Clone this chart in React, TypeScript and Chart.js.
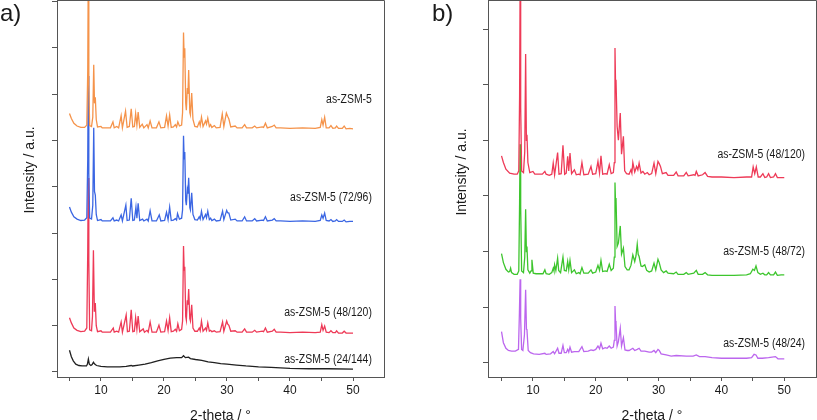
import React, { useEffect, useRef } from "react";
import { Chart, registerables } from "chart.js";

Chart.register(...registerables);

const FONT = "'Liberation Sans', Arial, Helvetica, sans-serif";
const FRAME = "#555555";
const TEXT = "#1a1a1a";

type Pt = [number, number];

// ---- axis ticks ----
const X_TICKS = [5, 10, 15, 20, 25, 30, 35, 40, 45, 50];
const X_TICK_LABELS = [10, 20, 30, 40, 50];
const Y_TICKS_A = [0, 1, 2, 3, 4, 5, 6, 7, 8];
const Y_TICKS_B = [0, 1, 2, 3, 4, 5, 6];

// ---- series names ----
const NAMES_A = ["as-ZSM-5", "as-ZSM-5 (72/96)", "as-ZSM-5 (48/120)", "as-ZSM-5 (24/144)"];
const NAMES_B = ["as-ZSM-5 (48/120)", "as-ZSM-5 (48/72)", "as-ZSM-5 (48/24)"];

// ---- panel a data (2-theta, offset intensity) ----
const ORANGE_A: Pt[] = [
  [5.0, 5.58], [5.3, 5.47], [5.7, 5.37], [6.2, 5.31], [6.8, 5.28], [7.4, 5.28], [7.75, 5.33], [7.9, 6.5], [7.98, 8.6], [8.07, 6.2],
  [8.2, 5.32], [8.5, 5.30], [8.7, 5.5], [8.85, 6.63], [8.97, 5.8], [9.1, 5.93], [9.25, 5.45], [9.45, 5.29], [10.0, 5.30], [10.2, 5.27],
  [11.5, 5.27], [11.9, 5.40], [12.1, 5.27], [12.5, 5.30], [12.8, 5.27], [13.2, 5.53], [13.4, 5.27], [13.9, 5.63], [14.15, 5.28], [14.5, 5.30],
  [14.8, 5.68], [15.05, 5.29], [15.3, 5.30], [15.5, 5.58], [15.7, 5.33], [15.9, 5.61], [16.15, 5.28], [16.55, 5.35], [16.8, 5.27], [17.3, 5.34],
  [17.5, 5.27], [17.8, 5.42], [18.1, 5.27], [18.8, 5.27], [19.2, 5.40], [19.5, 5.27], [20.1, 5.28], [20.4, 5.53], [20.65, 5.31], [20.9, 5.55],
  [21.15, 5.28], [21.5, 5.29], [21.8, 5.34], [22.0, 5.29], [22.2, 5.40], [22.45, 5.31], [22.8, 5.33], [22.95, 5.6], [23.1, 7.33], [23.2, 6.8],
  [23.3, 6.99], [23.45, 5.8], [23.55, 5.65], [23.7, 6.13], [23.8, 6.0], [23.92, 6.52], [24.1, 5.6], [24.2, 5.55], [24.4, 6.02], [24.6, 5.45],
  [24.9, 5.30], [25.3, 5.29], [25.6, 5.40], [25.75, 5.32], [25.95, 5.50], [26.2, 5.30], [26.6, 5.42], [26.75, 5.35], [26.95, 5.48], [27.2, 5.30],
  [27.4, 5.34], [27.6, 5.28], [28.0, 5.32], [28.3, 5.27], [28.9, 5.28], [29.25, 5.57], [29.5, 5.30], [29.9, 5.59], [30.1, 5.52], [30.3, 5.46],
  [30.6, 5.29], [31.3, 5.31], [31.6, 5.27], [32.4, 5.27], [32.8, 5.34], [33.1, 5.27], [34.0, 5.27], [34.4, 5.31], [34.7, 5.27], [35.6, 5.29],
  [35.8, 5.28], [36.1, 5.37], [36.4, 5.27], [37.2, 5.30], [37.5, 5.33], [37.8, 5.27], [38.5, 5.27], [40, 5.26], [42, 5.27], [44, 5.26],
  [44.8, 5.28], [45.05, 5.45], [45.25, 5.33], [45.5, 5.50], [45.75, 5.27], [46.2, 5.27], [46.5, 5.32], [46.8, 5.26], [47.2, 5.27], [47.4, 5.31],
  [47.7, 5.26], [48.3, 5.26], [48.6, 5.31], [48.9, 5.25], [49.5, 5.26], [50, 5.25],
];

const BLUE_A: Pt[] = [
  [5.0, 3.56], [5.3, 3.45], [5.7, 3.35], [6.2, 3.30], [6.8, 3.27], [7.4, 3.28], [7.75, 3.33], [7.9, 4.6], [7.98, 6.39], [8.07, 4.3],
  [8.2, 3.32], [8.5, 3.30], [8.7, 3.6], [8.85, 5.27], [8.97, 3.9], [9.1, 3.82], [9.25, 3.40], [9.45, 3.27], [10.0, 3.29], [10.2, 3.26],
  [11.5, 3.26], [11.9, 3.33], [12.1, 3.26], [12.5, 3.28], [12.8, 3.26], [13.2, 3.39], [13.4, 3.26], [13.95, 3.60], [14.15, 3.27], [14.5, 3.28],
  [14.8, 3.75], [15.05, 3.27], [15.3, 3.28], [15.55, 3.56], [15.7, 3.32], [15.9, 3.64], [16.15, 3.27], [16.6, 3.30], [16.8, 3.26], [17.3, 3.30],
  [17.5, 3.26], [17.8, 3.48], [18.1, 3.26], [18.8, 3.26], [19.25, 3.39], [19.5, 3.26], [20.1, 3.27], [20.4, 3.45], [20.65, 3.29], [20.9, 3.56],
  [21.15, 3.27], [21.5, 3.28], [21.8, 3.31], [22.0, 3.28], [22.15, 3.42], [22.45, 3.30], [22.8, 3.32], [22.95, 3.5], [23.1, 5.10], [23.2, 4.6],
  [23.3, 4.75], [23.45, 3.7], [23.55, 3.6], [23.7, 3.93], [23.8, 3.85], [23.92, 4.19], [24.1, 3.55], [24.2, 3.5], [24.4, 3.87], [24.6, 3.40],
  [24.9, 3.29], [25.3, 3.28], [25.6, 3.35], [25.75, 3.30], [25.95, 3.47], [26.2, 3.29], [26.6, 3.40], [26.75, 3.33], [26.95, 3.47], [27.2, 3.29],
  [27.4, 3.32], [27.6, 3.27], [28.0, 3.30], [28.3, 3.26], [28.9, 3.27], [29.3, 3.47], [29.5, 3.29], [29.95, 3.49], [30.1, 3.44], [30.3, 3.43],
  [30.6, 3.28], [31.3, 3.30], [31.6, 3.26], [32.4, 3.26], [32.8, 3.35], [33.1, 3.26], [34.0, 3.26], [34.4, 3.31], [34.7, 3.26], [35.6, 3.28],
  [35.8, 3.27], [36.1, 3.35], [36.4, 3.26], [37.2, 3.28], [37.5, 3.31], [37.8, 3.26], [38.5, 3.26], [40, 3.25], [42, 3.26], [44, 3.25],
  [44.8, 3.27], [45.05, 3.39], [45.25, 3.32], [45.5, 3.43], [45.75, 3.27], [46.2, 3.26], [46.5, 3.29], [46.8, 3.25], [47.2, 3.26], [47.4, 3.29],
  [47.7, 3.25], [48.3, 3.25], [48.6, 3.28], [48.9, 3.24], [49.5, 3.25], [50, 3.25],
];

const RED_A: Pt[] = [
  [5.0, 1.17], [5.3, 1.06], [5.7, 0.95], [6.2, 0.90], [6.8, 0.87], [7.4, 0.88], [7.75, 0.95], [7.9, 2.6], [7.98, 4.19], [8.07, 2.4],
  [8.2, 0.91], [8.5, 0.89], [8.65, 1.2], [8.8, 2.63], [8.95, 1.3], [9.1, 1.49], [9.25, 1.0], [9.45, 0.87], [10.0, 0.89], [10.2, 0.86],
  [11.5, 0.86], [11.95, 0.95], [12.1, 0.86], [12.5, 0.88], [12.8, 0.86], [13.2, 1.08], [13.4, 0.86], [14.0, 1.23], [14.2, 0.87], [14.5, 0.88],
  [14.8, 1.34], [15.05, 0.87], [15.3, 0.88], [15.5, 1.17], [15.7, 0.92], [15.9, 1.21], [16.15, 0.87], [16.7, 0.93], [16.9, 0.86], [17.3, 0.90],
  [17.5, 0.86], [17.8, 1.08], [18.1, 0.86], [18.8, 0.86], [19.2, 1.01], [19.5, 0.86], [20.1, 0.87], [20.4, 1.10], [20.65, 0.90], [20.9, 1.17],
  [21.15, 0.87], [21.5, 0.88], [21.8, 0.92], [22.0, 0.88], [22.2, 1.04], [22.45, 0.89], [22.8, 0.92], [22.95, 1.1], [23.1, 2.72], [23.2, 2.2],
  [23.3, 2.27], [23.45, 1.2], [23.55, 1.12], [23.7, 1.55], [23.8, 1.45], [23.92, 1.79], [24.1, 1.15], [24.2, 1.1], [24.4, 1.45], [24.6, 0.95],
  [24.9, 0.88], [25.3, 0.88], [25.6, 0.95], [25.75, 0.89], [25.95, 1.10], [26.2, 0.88], [26.6, 0.95], [26.75, 0.90], [26.95, 1.06], [27.2, 0.88],
  [27.4, 0.90], [27.6, 0.87], [28.0, 0.89], [28.3, 0.86], [28.9, 0.87], [29.3, 1.08], [29.5, 0.88], [29.95, 1.10], [30.1, 1.04], [30.3, 1.01],
  [30.6, 0.88], [31.3, 0.89], [31.6, 0.86], [32.4, 0.86], [32.8, 0.93], [33.1, 0.86], [34.0, 0.86], [34.4, 0.90], [34.7, 0.86], [35.6, 0.88],
  [35.8, 0.87], [36.1, 0.95], [36.4, 0.86], [37.2, 0.88], [37.5, 0.92], [37.8, 0.86], [38.5, 0.86], [40, 0.85], [42, 0.86], [44, 0.85],
  [44.8, 0.86], [45.05, 1.02], [45.25, 0.90], [45.5, 0.99], [45.75, 0.86], [46.2, 0.85], [46.5, 0.89], [46.8, 0.85], [47.2, 0.85], [47.4, 0.89],
  [47.7, 0.84], [48.3, 0.84], [48.6, 0.88], [48.9, 0.84], [49.5, 0.84], [50, 0.84],
];

const BLACK_A: Pt[] = [
  [5.0, 0.47], [5.3, 0.33], [5.6, 0.24], [6.0, 0.17], [6.5, 0.14], [7.0, 0.13], [7.7, 0.13], [7.85, 0.17], [8.0, 0.28], [8.15, 0.17],
  [8.4, 0.14], [8.6, 0.16], [8.8, 0.21], [9.0, 0.17], [9.3, 0.14], [10.0, 0.12], [11.0, 0.11], [12.0, 0.11], [13.0, 0.11], [14.0, 0.12],
  [14.8, 0.14], [15.0, 0.13], [16.0, 0.15], [17.0, 0.17], [18.0, 0.20], [19.0, 0.24], [20.0, 0.27], [21.0, 0.30], [22.0, 0.31], [22.8, 0.31],
  [23.1, 0.35], [23.4, 0.31], [23.9, 0.32], [24.2, 0.29], [25, 0.27], [26, 0.25], [27, 0.22], [28, 0.20], [29, 0.18], [30, 0.17],
  [31.5, 0.15], [33, 0.13], [35, 0.11], [37, 0.10], [40, 0.08], [43, 0.07], [46, 0.07], [50, 0.06],
];

// ---- panel b data ----
const RED_B: Pt[] = [
  [5.0, 3.72], [5.3, 3.60], [5.7, 3.48], [6.3, 3.41], [7.0, 3.39], [7.5, 3.39], [7.75, 3.45], [7.88, 4.8], [7.96, 6.8], [8.05, 4.6],
  [8.2, 3.45], [8.5, 3.42], [8.7, 3.8], [8.84, 5.55], [8.96, 4.0], [9.05, 4.10], [9.2, 3.6], [9.5, 3.42], [10.0, 3.44], [10.3, 3.39],
  [11.5, 3.39], [11.9, 3.44], [12.1, 3.39], [12.6, 3.37], [13.0, 3.39], [13.23, 3.59], [13.45, 3.38], [13.93, 3.78], [14.15, 3.39], [14.5, 3.40],
  [14.78, 3.91], [15.05, 3.39], [15.3, 3.41], [15.53, 3.71], [15.7, 3.45], [15.9, 3.77], [16.15, 3.40], [16.6, 3.47], [16.9, 3.38], [17.3, 3.39],
  [17.5, 3.38], [17.8, 3.60], [18.1, 3.38], [18.8, 3.39], [19.24, 3.53], [19.5, 3.39], [20.0, 3.40], [20.35, 3.62], [20.6, 3.41], [20.83, 3.72],
  [21.1, 3.39], [21.5, 3.40], [21.8, 3.39], [22.15, 3.56], [22.45, 3.40], [22.8, 3.42], [22.95, 3.6], [23.06, 5.66], [23.15, 5.0], [23.22, 5.09],
  [23.4, 4.25], [23.6, 4.0], [23.9, 4.49], [24.1, 3.75], [24.4, 4.07], [24.6, 3.45], [24.9, 3.40], [25.3, 3.39], [25.6, 3.47], [25.75, 3.41],
  [25.9, 3.60], [26.2, 3.43], [26.5, 3.53], [26.7, 3.47], [26.9, 3.59], [27.2, 3.41], [27.5, 3.44], [27.8, 3.39], [28.2, 3.42], [28.5, 3.38],
  [28.9, 3.40], [29.27, 3.59], [29.55, 3.40], [29.9, 3.62], [30.1, 3.58], [30.3, 3.53], [30.6, 3.40], [31.2, 3.42], [31.5, 3.37], [32.4, 3.37],
  [32.8, 3.43], [33.1, 3.36], [34.0, 3.36], [34.4, 3.42], [34.7, 3.36], [35.6, 3.38], [35.8, 3.37], [36.0, 3.44], [36.3, 3.36], [37.0, 3.38],
  [37.4, 3.42], [37.8, 3.35], [38.5, 3.34], [40, 3.34], [42, 3.33], [44, 3.34], [44.8, 3.34], [45.05, 3.52], [45.3, 3.40], [45.55, 3.52],
  [45.85, 3.34], [46.2, 3.34], [46.6, 3.40], [46.9, 3.33], [47.2, 3.34], [47.5, 3.40], [47.8, 3.33], [48.3, 3.34], [48.6, 3.40], [48.9, 3.33],
  [49.5, 3.33], [50, 3.33],
];

const GREEN_B: Pt[] = [
  [5.0, 1.96], [5.3, 1.80], [5.7, 1.68], [6.1, 1.63], [6.3, 1.64], [6.45, 1.70], [6.6, 1.62], [7.0, 1.59], [7.5, 1.59], [7.75, 1.65],
  [7.88, 2.9], [7.96, 3.93], [8.05, 2.8], [8.2, 1.65], [8.5, 1.62], [8.7, 1.9], [8.84, 2.76], [8.96, 2.0], [9.05, 2.09], [9.2, 1.67],
  [9.5, 1.61], [9.7, 1.65], [9.84, 1.85], [10.05, 1.61], [10.5, 1.60], [11.6, 1.60], [11.9, 1.67], [12.1, 1.60], [12.6, 1.59], [13.0, 1.62],
  [13.23, 1.70], [13.35, 1.65], [13.45, 1.76], [13.65, 1.66], [13.93, 1.88], [14.1, 1.66], [14.4, 1.62], [14.78, 1.90], [15.0, 1.66], [15.3, 1.65],
  [15.53, 1.82], [15.7, 1.67], [15.9, 1.84], [16.15, 1.62], [16.6, 1.67], [16.9, 1.60], [17.3, 1.62], [17.5, 1.60], [17.8, 1.71], [18.1, 1.61],
  [18.8, 1.61], [19.24, 1.67], [19.5, 1.61], [20.0, 1.63], [20.35, 1.75], [20.6, 1.66], [20.83, 1.84], [21.1, 1.64], [21.5, 1.65], [21.8, 1.64],
  [22.15, 1.77], [22.45, 1.66], [22.8, 1.70], [22.95, 1.9], [23.06, 3.24], [23.15, 2.85], [23.22, 2.96], [23.4, 2.09], [23.6, 2.15], [23.9, 2.46],
  [24.1, 1.95], [24.4, 2.06], [24.65, 1.73], [25.0, 1.67], [25.3, 1.67], [25.6, 1.75], [25.9, 1.94], [26.2, 1.82], [26.4, 1.92], [26.6, 2.13],
  [26.75, 1.95], [26.9, 1.91], [27.2, 1.74], [27.4, 1.73], [27.8, 1.76], [28.1, 1.66], [28.5, 1.63], [28.9, 1.65], [29.27, 1.79], [29.55, 1.67],
  [29.9, 1.86], [30.1, 1.80], [30.4, 1.67], [30.8, 1.62], [31.2, 1.65], [31.5, 1.61], [32.4, 1.60], [32.8, 1.63], [33.1, 1.59], [34.0, 1.59],
  [34.4, 1.62], [34.7, 1.59], [35.6, 1.61], [36.0, 1.66], [36.3, 1.59], [37.0, 1.59], [37.4, 1.62], [37.8, 1.58], [38.5, 1.57], [40, 1.57],
  [42, 1.57], [44, 1.58], [44.6, 1.60], [45.0, 1.68], [45.25, 1.66], [45.5, 1.74], [45.8, 1.62], [46.2, 1.59], [46.6, 1.61], [46.9, 1.58],
  [47.2, 1.58], [47.5, 1.62], [47.8, 1.58], [48.3, 1.58], [48.6, 1.63], [48.9, 1.57], [49.5, 1.58], [50, 1.58],
];

const PURPLE_B: Pt[] = [
  [5.0, 0.56], [5.3, 0.36], [5.7, 0.26], [6.1, 0.22], [6.6, 0.21], [7.2, 0.21], [7.7, 0.24], [7.85, 0.9], [7.96, 1.50], [8.05, 0.8],
  [8.2, 0.24], [8.4, 0.22], [8.65, 0.5], [8.84, 1.31], [8.97, 0.6], [9.05, 0.59], [9.25, 0.22], [9.6, 0.18], [10.1, 0.16], [11, 0.15],
  [11.9, 0.17], [12.1, 0.15], [12.8, 0.16], [13.23, 0.20], [13.45, 0.16], [13.93, 0.26], [14.15, 0.17], [14.5, 0.17], [14.78, 0.31], [15.0, 0.18],
  [15.3, 0.18], [15.53, 0.24], [15.7, 0.19], [15.9, 0.28], [16.15, 0.19], [16.6, 0.20], [17.3, 0.20], [17.8, 0.29], [18.1, 0.20], [18.8, 0.21],
  [19.24, 0.23], [19.6, 0.22], [20.0, 0.24], [20.35, 0.30], [20.6, 0.25], [20.83, 0.35], [21.1, 0.25], [21.5, 0.27], [21.8, 0.26], [22.15, 0.30],
  [22.45, 0.26], [22.8, 0.28], [22.95, 0.4], [23.06, 1.02], [23.15, 0.75], [23.22, 0.71], [23.4, 0.30], [23.6, 0.38], [23.9, 0.62], [24.1, 0.30],
  [24.4, 0.45], [24.65, 0.23], [25.0, 0.22], [25.3, 0.22], [25.9, 0.26], [26.2, 0.22], [26.6, 0.24], [26.9, 0.26], [27.2, 0.21], [27.8, 0.21],
  [28.5, 0.19], [28.9, 0.19], [29.27, 0.22], [29.55, 0.18], [29.9, 0.24], [30.1, 0.22], [30.4, 0.16], [31.2, 0.14], [32, 0.12], [32.8, 0.13],
  [34.4, 0.12], [35.5, 0.12], [36.0, 0.14], [36.5, 0.11], [37.4, 0.11], [38.5, 0.09], [40, 0.08], [42, 0.08], [44, 0.08], [44.8, 0.09],
  [45.2, 0.15], [45.5, 0.14], [45.8, 0.08], [46.5, 0.08], [47.5, 0.09], [48.6, 0.11], [49, 0.07], [50, 0.07],
];

// ---- styling / layout (kept apart from data) ----
const COLORS_A = ["#F5934A", "#3B66E3", "#EE3A57", "#202020"];
const COLORS_B = ["#EE3A57", "#3DC52D", "#BC66EE"];
const LABEL_Y_A = [5.87, 3.76, 1.27, 0.26];
const LABEL_Y_B = [3.74, 1.99, 0.34];

interface PanelSpec {
  letter: string;
  left: number;
  width: number;
  names: string[];
  series: Pt[][];
  colors: string[];
  labelY: number[];
  labelX: number;
  xMin: number;
  xMax: number;
  yMin: number;
  yMax: number;
  yTicks: number[];
  axisWidth: number;
  padRight: number;
  yTitleX: number;
  yTitleY: number;
  letterX: number;
}

const PANELS: PanelSpec[] = [
  {
    letter: "a)", left: 0, width: 410,
    names: NAMES_A, series: [ORANGE_A, BLUE_A, RED_A, BLACK_A], colors: COLORS_A,
    labelY: LABEL_Y_A, labelX: 53.0,
    xMin: 3.02, xMax: 54.92, yMin: -0.108, yMax: 8.03, yTicks: Y_TICKS_A,
    axisWidth: 57, padRight: 26, yTitleX: 30, yTitleY: 170, letterX: 0,
  },
  {
    letter: "b)", left: 410, width: 407,
    names: NAMES_B, series: [RED_B, GREEN_B, PURPLE_B], colors: COLORS_B,
    labelY: LABEL_Y_B, labelX: 53.3,
    xMin: 2.85, xMax: 55.05, yMin: -0.257, yMax: 6.523, yTicks: Y_TICKS_B,
    axisWidth: 78, padRight: 1, yTitleX: 52, yTitleY: 172, letterX: 22,
  },
];

function Panel({ spec }: { spec: PanelSpec }) {
  const ref = useRef<HTMLCanvasElement | null>(null);

  useEffect(() => {
    const canvas = ref.current;
    if (!canvas) return;

    const decor = {
      id: "decor",
      afterDatasetsDraw(chart: any) {
        const { ctx, chartArea: ca, scales } = chart;
        ctx.save();
        // box frame: top and right sides
        ctx.strokeStyle = FRAME;
        ctx.lineWidth = 1;
        ctx.beginPath();
        ctx.moveTo(ca.left, ca.top + 0.5);
        ctx.lineTo(ca.right + 0.5, ca.top + 0.5);
        ctx.lineTo(ca.right + 0.5, ca.bottom);
        ctx.stroke();

        // series labels (slightly condensed like the reference)
        ctx.fillStyle = TEXT;
        ctx.font = `12px ${FONT}`;
        ctx.textAlign = "right";
        ctx.textBaseline = "middle";
        spec.names.forEach((name, i) => {
          const px = scales.x.getPixelForValue(spec.labelX);
          const py = scales.y.getPixelForValue(spec.labelY[i]);
          ctx.save();
          ctx.translate(px, py);
          ctx.scale(0.87, 1);
          ctx.fillText(name, 0, 0);
          ctx.restore();
        });

        // y title
        ctx.save();
        ctx.translate(spec.yTitleX, spec.yTitleY);
        ctx.rotate(-Math.PI / 2);
        ctx.font = `14px ${FONT}`;
        ctx.textAlign = "center";
        ctx.textBaseline = "middle";
        ctx.fillText("Intensity / a.u.", 0, 0);
        ctx.restore();

        // x title
        ctx.font = `14px ${FONT}`;
        ctx.textAlign = "center";
        ctx.textBaseline = "alphabetic";
        ctx.fillText("2-theta / °", (ca.left + ca.right) / 2, 420);

        // panel letter
        ctx.font = `24px ${FONT}`;
        ctx.textAlign = "left";
        ctx.fillText(spec.letter, spec.letterX, 21);
        ctx.restore();
      },
    };

    const datasets = spec.series.map((pts, i) => ({
      label: spec.names[i],
      data: pts.map(([x, y]) => ({ x, y })),
      borderColor: spec.colors[i],
      backgroundColor: spec.colors[i],
      borderWidth: 1.3,
      pointRadius: 0,
      tension: 0,
      fill: false,
    }));

    const chart = new Chart(canvas, {
      type: "line",
      data: { datasets },
      options: {
        responsive: false,
        animation: false,
        events: [],
        layout: { padding: { left: 0, right: spec.padRight, top: 0, bottom: 0 } },
        plugins: { legend: { display: false }, tooltip: { enabled: false }, title: { display: false } },
        scales: {
          x: {
            type: "linear",
            min: spec.xMin,
            max: spec.xMax,
            afterBuildTicks: (s: any) => {
              s.ticks = X_TICKS.map((v) => ({ value: v }));
            },
            afterFit: (s: any) => {
              s.height = 43;
            },
            grid: { drawOnChartArea: false, drawTicks: true, tickLength: 4, color: FRAME, tickColor: FRAME },
            border: { display: true, color: FRAME, width: 1 },
            ticks: {
              autoSkip: false,
              maxRotation: 0,
              minRotation: 0,
              padding: 2,
              color: TEXT,
              font: { family: FONT, size: 12 },
              callback: (v: any) => (X_TICK_LABELS.includes(Number(v)) ? String(v) : ""),
            },
          },
          y: {
            type: "linear",
            min: spec.yMin,
            max: spec.yMax,
            afterBuildTicks: (s: any) => {
              s.ticks = spec.yTicks.map((v) => ({ value: v }));
            },
            afterFit: (s: any) => {
              s.width = spec.axisWidth;
              s.paddingTop = 0;
              s.paddingBottom = 0;
            },
            grid: { drawOnChartArea: false, drawTicks: true, tickLength: 5, color: FRAME, tickColor: FRAME },
            border: { display: true, color: FRAME, width: 1 },
            ticks: { display: false },
          },
        },
      } as any,
      plugins: [decor],
    });

    return () => chart.destroy();
  }, [spec]);

  return (
    <canvas
      ref={ref}
      width={spec.width}
      height={420}
      style={{ position: "absolute", left: spec.left, top: 0, width: spec.width, height: 420 }}
    />
  );
}

export default function App() {
  useEffect(() => {
    document.body.style.margin = "0";
    document.body.style.background = "#ffffff";
  }, []);
  return (
    <div style={{ position: "relative", width: 817, height: 420, background: "#ffffff", overflow: "hidden" }}>
      {PANELS.map((p) => (
        <Panel key={p.letter} spec={p} />
      ))}
    </div>
  );
}
